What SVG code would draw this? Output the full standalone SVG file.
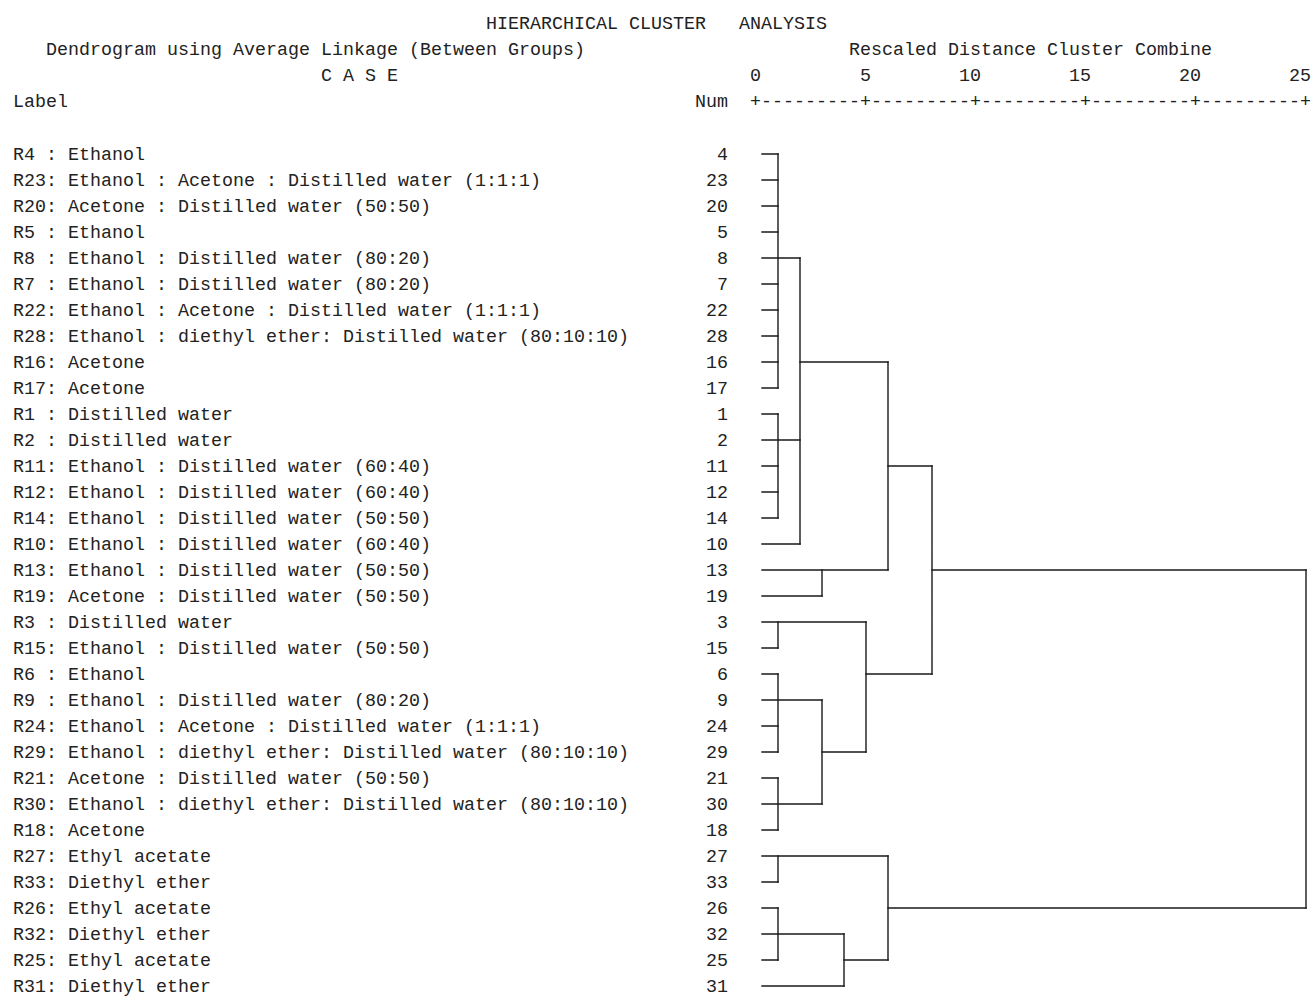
<svg xmlns="http://www.w3.org/2000/svg" width="1312" height="996" viewBox="0 0 1312 996" xml:space="preserve">
<style>
text{font-family:"Liberation Mono","DejaVu Sans Mono",monospace;font-size:18.33px;fill:#222;white-space:pre}
.num{text-anchor:end}
.ln{fill:none;stroke:#1a1a1a;stroke-width:1.4;stroke-linecap:square}
</style>
<rect width="1312" height="996" fill="#fff"/>
<g id="header">
<text x="486" y="29">HIERARCHICAL CLUSTER   ANALYSIS</text>
<text x="46" y="55">Dendrogram using Average Linkage (Between Groups)</text>
<text x="849" y="55">Rescaled Distance Cluster Combine</text>
<text x="321" y="81">C A S E</text>
<text x="750" y="81">0</text>
<text x="860" y="81">5</text>
<text x="959" y="81">10</text>
<text x="1069" y="81">15</text>
<text x="1179" y="81">20</text>
<text x="1289" y="81">25</text>
<text x="13" y="107">Label</text>
<text x="695" y="107">Num</text>
<text x="750" y="107">+---------+---------+---------+---------+---------+</text>
</g>
<g id="leaf-R4"><text x="13" y="160">R4 : Ethanol</text><text class="num" x="728" y="160">4</text></g>
<g id="leaf-R23"><text x="13" y="186">R23: Ethanol : Acetone : Distilled water (1:1:1)</text><text class="num" x="728" y="186">23</text></g>
<g id="leaf-R20"><text x="13" y="212">R20: Acetone : Distilled water (50:50)</text><text class="num" x="728" y="212">20</text></g>
<g id="leaf-R5"><text x="13" y="238">R5 : Ethanol</text><text class="num" x="728" y="238">5</text></g>
<g id="leaf-R8"><text x="13" y="264">R8 : Ethanol : Distilled water (80:20)</text><text class="num" x="728" y="264">8</text></g>
<g id="leaf-R7"><text x="13" y="290">R7 : Ethanol : Distilled water (80:20)</text><text class="num" x="728" y="290">7</text></g>
<g id="leaf-R22"><text x="13" y="316">R22: Ethanol : Acetone : Distilled water (1:1:1)</text><text class="num" x="728" y="316">22</text></g>
<g id="leaf-R28"><text x="13" y="342">R28: Ethanol : diethyl ether: Distilled water (80:10:10)</text><text class="num" x="728" y="342">28</text></g>
<g id="leaf-R16"><text x="13" y="368">R16: Acetone</text><text class="num" x="728" y="368">16</text></g>
<g id="leaf-R17"><text x="13" y="394">R17: Acetone</text><text class="num" x="728" y="394">17</text></g>
<g id="leaf-R1"><text x="13" y="420">R1 : Distilled water</text><text class="num" x="728" y="420">1</text></g>
<g id="leaf-R2"><text x="13" y="446">R2 : Distilled water</text><text class="num" x="728" y="446">2</text></g>
<g id="leaf-R11"><text x="13" y="472">R11: Ethanol : Distilled water (60:40)</text><text class="num" x="728" y="472">11</text></g>
<g id="leaf-R12"><text x="13" y="498">R12: Ethanol : Distilled water (60:40)</text><text class="num" x="728" y="498">12</text></g>
<g id="leaf-R14"><text x="13" y="524">R14: Ethanol : Distilled water (50:50)</text><text class="num" x="728" y="524">14</text></g>
<g id="leaf-R10"><text x="13" y="550">R10: Ethanol : Distilled water (60:40)</text><text class="num" x="728" y="550">10</text></g>
<g id="leaf-R13"><text x="13" y="576">R13: Ethanol : Distilled water (50:50)</text><text class="num" x="728" y="576">13</text></g>
<g id="leaf-R19"><text x="13" y="602">R19: Acetone : Distilled water (50:50)</text><text class="num" x="728" y="602">19</text></g>
<g id="leaf-R3"><text x="13" y="628">R3 : Distilled water</text><text class="num" x="728" y="628">3</text></g>
<g id="leaf-R15"><text x="13" y="654">R15: Ethanol : Distilled water (50:50)</text><text class="num" x="728" y="654">15</text></g>
<g id="leaf-R6"><text x="13" y="680">R6 : Ethanol</text><text class="num" x="728" y="680">6</text></g>
<g id="leaf-R9"><text x="13" y="706">R9 : Ethanol : Distilled water (80:20)</text><text class="num" x="728" y="706">9</text></g>
<g id="leaf-R24"><text x="13" y="732">R24: Ethanol : Acetone : Distilled water (1:1:1)</text><text class="num" x="728" y="732">24</text></g>
<g id="leaf-R29"><text x="13" y="758">R29: Ethanol : diethyl ether: Distilled water (80:10:10)</text><text class="num" x="728" y="758">29</text></g>
<g id="leaf-R21"><text x="13" y="784">R21: Acetone : Distilled water (50:50)</text><text class="num" x="728" y="784">21</text></g>
<g id="leaf-R30"><text x="13" y="810">R30: Ethanol : diethyl ether: Distilled water (80:10:10)</text><text class="num" x="728" y="810">30</text></g>
<g id="leaf-R18"><text x="13" y="836">R18: Acetone</text><text class="num" x="728" y="836">18</text></g>
<g id="leaf-R27"><text x="13" y="862">R27: Ethyl acetate</text><text class="num" x="728" y="862">27</text></g>
<g id="leaf-R33"><text x="13" y="888">R33: Diethyl ether</text><text class="num" x="728" y="888">33</text></g>
<g id="leaf-R26"><text x="13" y="914">R26: Ethyl acetate</text><text class="num" x="728" y="914">26</text></g>
<g id="leaf-R32"><text x="13" y="940">R32: Diethyl ether</text><text class="num" x="728" y="940">32</text></g>
<g id="leaf-R25"><text x="13" y="966">R25: Ethyl acetate</text><text class="num" x="728" y="966">25</text></g>
<g id="leaf-R31"><text x="13" y="992">R31: Diethyl ether</text><text class="num" x="728" y="992">31</text></g>
<g id="connectors">
<path class="ln" d="M762 154H778M762 180H778M762 206H778M762 232H778M762 258H800M762 284H778M762 310H778M762 336H778M762 362H778M762 388H778
M762 414H778M762 440H800M762 466H778M762 492H778M762 518H778M762 544H800M762 570H888M762 596H822
M762 622H866M762 648H778M762 674H778M762 700H822M762 726H778M762 752H778M762 778H778M762 804H822M762 830H778
M762 856H888M762 882H778M762 908H778M762 934H844M762 960H778M762 986H844"/>
<path class="ln" d="M778 154V388M778 414V518M778 622V648M778 674V752M778 778V830M778 856V882M778 908V960
M800 258V544M822 570V596M822 700V804M844 934V986M866 622V752M888 362V570M888 856V960M932 466V674M1306 570V908"/>
<path class="ln" d="M800 362H888M888 466H932M822 752H866M866 674H932M932 570H1306M844 960H888M888 908H1306"/>
</g>
</svg>
